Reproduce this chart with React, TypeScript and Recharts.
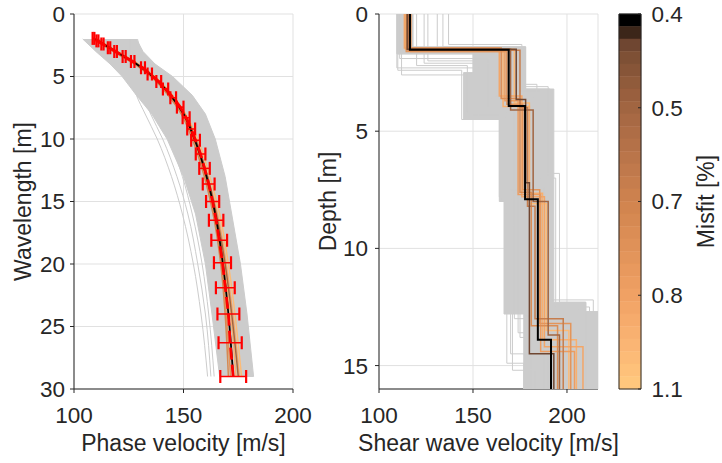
import { ScatterChart, Scatter, XAxis, YAxis, CartesianGrid, ReferenceArea } from 'recharts'

const FONT = '"Liberation Sans", Arial, Helvetica, sans-serif'
const INK = '#262626'
const GRID = '#e1e1e1'
const GRAY = '#cccccc'
const RED = '#ff0000'

// ---- dispersion panel (left) ----
const WAVELENGTHS = [2, 3, 4, 5, 6.5, 8, 10, 13, 16, 20, 24, 29]
// envelope of the dense cloud of trial curves
const BAND_MIN = [104, 110, 116.5, 122, 128.5, 135.5, 142.5, 150, 155.5, 160, 163, 166.5]
const BAND_MAX = [128.5, 131.5, 137, 145, 154, 160, 164.5, 169, 172, 176, 179, 182]
// loose trial curves outside the cloud
const GRAY_CURVES = [
  [125.5, 125.5, 125.5, 126, 128.5, 132.5, 138, 144.5, 149.5, 154.5, 158, 161],
  [127, 127.5, 128, 129, 131.5, 135, 140.5, 147, 152, 156.5, 160, 162.5],
  [128.5, 129, 130, 131.5, 134.5, 138.5, 143.5, 149.5, 154, 158.5, 161.5, 164],
  [129, 130.5, 132.5, 135.5, 140, 144.5, 149.5, 155.5, 160, 164.5, 167.5, 170],
]
const ORANGE_CURVES = [
  [110.5, 120, 129.5, 137, 145, 151, 156.5, 162, 166.5, 170.5, 173.5, 176.5],
  [110, 119.5, 129, 136.5, 144.5, 150.5, 155.5, 161, 165.5, 169.5, 172.5, 175.5],
  [109.5, 119, 128.5, 136, 143.5, 149.5, 155, 160.5, 165, 168.5, 171.5, 174],
  [109, 118.5, 128, 135.5, 143.5, 149.5, 154.5, 160, 164, 167.5, 169.5, 171.5],
  [109, 118, 127.5, 135, 143, 149, 154, 159.5, 163.5, 167, 169, 170.5],
  [110, 119.5, 129, 136.5, 144.5, 150.5, 155.5, 161, 165, 169, 172, 175],
]
const ORANGE_CURVE_COLORS = ['#fcbb77', '#f3a668', '#f8b070', '#e3955b', '#d68952', '#a16541']
const BEST_CURVE = [109.5, 119, 128.5, 136, 144, 150, 155, 160.5, 164.5, 168, 170.5, 172.7]

// measured dispersion data
const OBS_WAVELENGTH = [29.0, 26.3, 24.0, 21.9, 19.9, 18.1, 16.5, 15.0, 13.6, 12.35, 11.2, 10.1, 9.2, 8.3,
  7.45, 6.7, 6.0, 5.4, 4.8, 4.3, 3.8, 3.4, 3.0, 2.7, 2.4, 2.15, 1.95]
const OBS_VELOCITY = [172.7, 171.3, 170.5, 169.1, 167.8, 166.3, 164.9, 163.3, 161.5, 159.6, 157.8, 155.5, 153.5, 151.2,
  148.5, 145.3, 141.8, 138.7, 134.6, 131.5, 126.8, 122.9, 119, 116, 113, 110.7, 108.9]
const OBS_ERROR = [5.9, 5.3, 5.0, 4.3, 3.9, 3.6, 3.3, 3.0, 2.7, 2.4, 2.2, 2.0, 1.8, 1.6,
  1.5, 1.3, 1.2, 1.1, 1.0, 0.9, 0.8, 0.7, 0.6, 0.55, 0.5, 0.45, 0.4]

// ---- Vs profile panel (right) ----
// outline of the dense cloud of trial profiles (velocity, depth pairs)
const CORE_V = [109.5, 109.5, 150, 150, 145, 145, 164, 164, 166.5, 166.5, 177, 177, 216.5, 216.5, 210, 210, 193, 193, 178, 178, 118, 118]
const CORE_D = [0, 1.7, 1.7, 2.5, 2.5, 4.5, 4.5, 8.0, 8.0, 12.8, 12.8, 16, 16, 12.7, 12.7, 12.3, 12.3, 3.2, 3.2, 1.4, 1.4, 0]
const GRAY_VS = [
  [110, 144, 166, 170, 179],
  [112, 150, 164, 172, 181],
  [120, 147, 168, 175, 185],
  [126, 155, 170, 178, 190],
  [137, 176, 190, 192, 214],
  [131, 172, 186, 194, 212],
  [110, 162, 172, 168, 177],
  [134, 178, 191, 189, 216],
  [111, 158, 165, 171, 183],
  [118, 160, 182, 196, 210],
  [113, 168, 175, 182, 200],
  [116, 174, 184, 188, 206],
  [124, 166, 178, 186, 196],
  [109.5, 153, 167, 174, 188],
]
const GRAY_DEPTHS = [
  [2.4, 4.5, 8.0, 14.5],
  [2.6, 4.3, 7.8, 13.0],
  [2.2, 4.2, 8.5, 13.8],
  [2.0, 3.8, 7.5, 12.9],
  [1.3, 3.1, 6.9, 12.2],
  [1.5, 3.3, 7.0, 12.5],
  [1.7, 3.5, 9.0, 14.9],
  [1.4, 3.2, 8.0, 12.7],
  [1.9, 4.0, 7.9, 15.2],
  [1.6, 3.6, 6.8, 12.3],
  [1.5, 3.4, 8.4, 13.4],
  [1.45, 3.0, 7.4, 12.6],
  [2.1, 3.9, 8.2, 14.0],
  [2.3, 4.4, 7.7, 13.6],
]
const ORANGE_VS = [
  [114, 172, 180, 189, 201],
  [116, 166, 180, 187, 205],
  [113.5, 164, 176, 188, 208.5],
  [117, 167, 174, 186, 204],
  [114.5, 168, 176.5, 185.5, 202],
  [115, 165, 175, 181, 195],
  [115.5, 175, 179, 183, 198],
  [116, 170, 182, 190, 196],
  [115, 173, 178, 180, 193],
]
const ORANGE_DEPTHS = [
  [1.5, 3.8, 8.1, 13.5],
  [1.55, 3.95, 7.65, 13.9],
  [1.45, 3.5, 7.8, 14.2],
  [1.6, 3.7, 7.7, 14.4],
  [1.6, 3.85, 7.5, 13.2],
  [1.45, 3.6, 7.6, 13.3],
  [1.55, 4.0, 8.2, 13.0],
  [1.5, 4.1, 8.0, 13.7],
  [1.5, 3.65, 7.2, 14.5],
]
const ORANGE_PROFILE_COLORS = ['#fcbb77', '#f8b070', '#f3a668', '#ec9d61', '#e3955b', '#db8d55', '#c67d4d', '#a16541', '#6f4631']
const BEST_VS = [116.5, 169, 177.7, 184.5, 191.5]
const BEST_DEPTHS = [1.52, 3.92, 7.9, 13.9]
const MAX_DEPTH = 16

// ---- colorbar ----
// band colours from the top (0.4 %) down to the bottom (1.1 %)
const CB_COLORS = ['#000000', '#3c2619', '#6f4631', '#7e5035', '#875538', '#905b3b', '#995f3e', '#a16541',
  '#a86944', '#ae6d46', '#b47148', '#ba754a', '#c0794c', '#c67d4d', '#cc814e', '#d2854f', '#d68952', '#db8d55',
  '#df9158', '#e3955b', '#e8995e', '#ec9d61', '#f0a164', '#f3a668', '#f6ab6c', '#f8b070', '#fab574', '#fcbb77',
  '#fec17a', '#ffc77d']
const CB_TICKS = [0, 7.5, 15, 22.5, 30]
const CB_LABELS = ['1.1', '0.8', '0.7', '0.5', '0.4']

type Pt = { v: number; d: number }

const noShape = () => <g />

// vertical cap drawn at each end of an error bar
const capShape = (p: any) => (
  <line x1={p.cx} x2={p.cx} y1={p.cy - 6.5} y2={p.cy + 6.5} stroke={RED} strokeWidth={2.2} />
)

const curve = (vs: number[]): Pt[] => vs.map((v, i) => ({ v, d: WAVELENGTHS[i] }))

// layered model -> staircase points
const steps = (vs: number[], depths: number[]): Pt[] => {
  const pts: Pt[] = []
  let top = 0
  vs.forEach((v, i) => {
    const bot = i < depths.length ? depths[i] : MAX_DEPTH
    pts.push({ v, d: top }, { v, d: bot })
    top = bot
  })
  return pts
}

function trace(
  key: string,
  data: Pt[],
  color: string,
  width: number,
  opts: { fill?: string; dash?: string; smooth?: boolean } = {},
) {
  return (
    <Scatter
      key={key}
      data={data}
      fill={color}
      shape={noShape}
      isAnimationActive={false}
      lineJointType={opts.smooth ? 'monotoneY' : 'linear'}
      line={{ stroke: color, strokeWidth: width, fill: opts.fill ?? 'none', strokeDasharray: opts.dash }}
    />
  )
}

const tickStyle = { fill: INK, fontSize: 22.5 }
const labelStyle = { fill: INK, fontSize: 23 }

function DispersionPanel() {
  const band = [
    ...WAVELENGTHS.map((d, i) => ({ v: BAND_MIN[i], d })),
    ...WAVELENGTHS.map((d, i) => ({ v: BAND_MAX[i], d })).reverse(),
  ]
  const observed = OBS_WAVELENGTH.map((d, i) => ({ v: OBS_VELOCITY[i], d }))
  const lows = OBS_WAVELENGTH.map((d, i) => ({ v: OBS_VELOCITY[i] - OBS_ERROR[i], d }))
  const highs = OBS_WAVELENGTH.map((d, i) => ({ v: OBS_VELOCITY[i] + OBS_ERROR[i], d }))

  return (
    <ScatterChart width={320} height={463} margin={{ top: 14, right: 27, bottom: 0, left: 0 }}>
      <CartesianGrid stroke={GRID} />
      <XAxis
        type="number"
        dataKey="v"
        domain={[100, 200]}
        ticks={[100, 150, 200]}
        allowDataOverflow
        height={74}
        tick={tickStyle}
        tickLine={{ stroke: INK }}
        axisLine={{ stroke: INK }}
        tickSize={4}
        tickMargin={14}
        label={{ value: 'Phase velocity [m/s]', position: 'insideBottom', offset: 12, ...labelStyle }}
      />
      <YAxis
        type="number"
        dataKey="d"
        domain={[0, 30]}
        ticks={[0, 5, 10, 15, 20, 25, 30]}
        reversed
        allowDataOverflow
        width={74}
        tick={tickStyle}
        tickLine={{ stroke: INK }}
        axisLine={{ stroke: INK }}
        tickSize={4}
        tickMargin={5}
        label={{ value: 'Wavelength [m]', angle: -90, position: 'insideLeft', offset: 23, ...labelStyle, style: { textAnchor: 'middle' } }}
      />
      {trace('band', band, GRAY, 1, { fill: GRAY })}
      {GRAY_CURVES.map((c, i) => trace(`g${i}`, curve(c), GRAY, 1, { smooth: true }))}
      {ORANGE_CURVES.map((c, i) => trace(`o${i}`, curve(c), ORANGE_CURVE_COLORS[i], 1.5, { smooth: true }))}
      {trace('best', curve(BEST_CURVE), '#000000', 1.8, { smooth: true })}
      {/* error bars of the measured curve */}
      {OBS_WAVELENGTH.map((d, i) => trace(`e${i}`, [lows[i], highs[i]], RED, 1.5))}
      <Scatter data={lows} shape={capShape} isAnimationActive={false} />
      <Scatter data={highs} shape={capShape} isAnimationActive={false} />
      {trace('obs', observed, RED, 2.8, { dash: '12 5' })}
    </ScatterChart>
  )
}

function ProfilePanel() {
  const core = CORE_V.map((v, i) => ({ v, d: CORE_D[i] }))
  return (
    <ScatterChart width={320} height={463} margin={{ top: 14, right: 22, bottom: 0, left: 0 }}>
      <CartesianGrid stroke={GRID} />
      <XAxis
        type="number"
        dataKey="v"
        domain={[100, 216.5]}
        ticks={[100, 150, 200]}
        allowDataOverflow
        height={74}
        tick={tickStyle}
        tickLine={{ stroke: INK }}
        axisLine={{ stroke: INK }}
        tickSize={4}
        tickMargin={14}
        label={{ value: 'Shear wave velocity [m/s]', position: 'insideBottom', offset: 12, ...labelStyle }}
      />
      <YAxis
        type="number"
        dataKey="d"
        domain={[0, MAX_DEPTH]}
        ticks={[0, 5, 10, 15]}
        reversed
        allowDataOverflow
        width={79}
        tick={tickStyle}
        tickLine={{ stroke: INK }}
        axisLine={{ stroke: INK }}
        tickSize={4}
        tickMargin={7}
        label={{ value: 'Depth [m]', angle: -90, position: 'insideLeft', offset: 28, ...labelStyle, style: { textAnchor: 'middle' } }}
      />
      {trace('core', core, GRAY, 1, { fill: GRAY })}
      {GRAY_VS.map((vs, i) => trace(`g${i}`, steps(vs, GRAY_DEPTHS[i]), GRAY, 1))}
      {ORANGE_VS.map((vs, i) => trace(`o${i}`, steps(vs, ORANGE_DEPTHS[i]), ORANGE_PROFILE_COLORS[i], 1.5))}
      {trace('best', steps(BEST_VS, BEST_DEPTHS), '#000000', 2)}
    </ScatterChart>
  )
}

function Colorbar() {
  const n = CB_COLORS.length
  const anchors = CB_TICKS.map((t) => ({ x: 0.5, y: t }))
  return (
    <ScatterChart width={122} height={463} margin={{ top: 14, right: 0, bottom: 74, left: 19 }}>
      <XAxis type="number" dataKey="x" domain={[0, 1]} hide />
      <YAxis
        type="number"
        dataKey="y"
        orientation="right"
        domain={[0, n]}
        ticks={CB_TICKS}
        tickFormatter={(t: number) => CB_LABELS[CB_TICKS.indexOf(t)]}
        width={81}
        axisLine={false}
        tick={tickStyle}
        tickLine={{ stroke: INK }}
        tickSize={-3}
        tickMargin={13.5}
        label={{ value: 'Misfit [%]', angle: -90, position: 'insideRight', offset: 16, ...labelStyle, style: { textAnchor: 'middle' } }}
      />
      <Scatter data={anchors} shape={noShape} isAnimationActive={false} />
      {CB_COLORS.map((c, k) => (
        <ReferenceArea key={k} x1={0} x2={1} y1={n - k - 1} y2={n - k} fill={c} fillOpacity={1} stroke={c} strokeWidth={0.5} />
      ))}
      <ReferenceArea x1={0} x2={1} y1={0} y2={n} fill="none" stroke={INK} strokeWidth={1} />
    </ScatterChart>
  )
}

export default function App() {
  return (
    <div style={{ position: 'absolute', left: 0, top: 0, width: 722, height: 463, background: '#ffffff', fontFamily: FONT, overflow: 'hidden' }}>
      <div style={{ position: 'absolute', left: 0, top: 0 }}>
        <DispersionPanel />
      </div>
      <div style={{ position: 'absolute', left: 300, top: 0 }}>
        <ProfilePanel />
      </div>
      <div style={{ position: 'absolute', left: 600, top: 0 }}>
        <Colorbar />
      </div>
    </div>
  )
}
